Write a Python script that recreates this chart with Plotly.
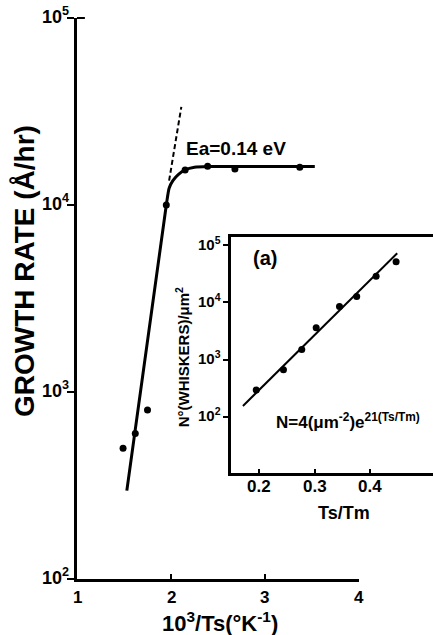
import numpy as np
import plotly.graph_objects as go

# ---- main panel data ----
main_pts_x = [1.49, 1.62, 1.75, 1.95, 2.15, 2.39, 2.68, 3.37]
main_pts_y = [500, 600, 800, 10000, 15400, 16100, 15600, 15900]
main_fit_x = [1.53, 1.95, 1.98, 2.02, 2.08, 2.15, 2.25, 2.40, 3.53]
main_fit_y = [297, 10000, 12300, 13500, 14600, 15400, 15900, 16050, 16050]
main_dash_x = [1.98, 2.11]
main_dash_y = [13500, 33500]
main_xticks = [1, 2, 3, 4]
main_xticklabels = ["1", "2", "3", "4"]
main_yticks = [100, 1000, 10000, 100000]
main_yticklabels = ["10<sup>2</sup>", "10<sup>3</sup>", "10<sup>4</sup>", "10<sup>5</sup>"]

# ---- inset data ----
ins_pts_x = [0.195, 0.244, 0.277, 0.303, 0.345, 0.376, 0.411, 0.447]
ins_pts_y = [297, 668, 1500, 3600, 8500, 12700, 28600, 51000]
ins_fit_x = [0.171, 0.449]
ins_fit_y = [156, 72000]
ins_xticks = [0.2, 0.3, 0.4]
ins_xticklabels = ["0.2", "0.3", "0.4"]
ins_yticks = [100, 1000, 10000, 100000]
ins_yticklabels = ["10<sup>2</sup>", "10<sup>3</sup>", "10<sup>4</sup>", "10<sup>5</sup>"]

FONT = "Liberation Sans, Arial, sans-serif"
BLACK = "#000000"

fig = go.Figure()

fig.add_trace(go.Scatter(x=main_fit_x, y=main_fit_y, mode="lines",
                         line=dict(color=BLACK, width=3, shape="spline", smoothing=0.6),
                         xaxis="x", yaxis="y", showlegend=False))
fig.add_trace(go.Scatter(x=main_dash_x, y=main_dash_y, mode="lines",
                         line=dict(color=BLACK, width=2, dash="5px,3px"),
                         xaxis="x", yaxis="y", showlegend=False))
fig.add_trace(go.Scatter(x=main_pts_x, y=main_pts_y, mode="markers",
                         marker=dict(color=BLACK, size=7),
                         xaxis="x", yaxis="y", showlegend=False))

fig.add_trace(go.Scatter(x=ins_fit_x, y=ins_fit_y, mode="lines",
                         line=dict(color=BLACK, width=2),
                         xaxis="x2", yaxis="y2", showlegend=False))
fig.add_trace(go.Scatter(x=ins_pts_x, y=ins_pts_y, mode="markers",
                         marker=dict(color=BLACK, size=7),
                         xaxis="x2", yaxis="y2", showlegend=False))


def bfont(size):
    return dict(family=FONT, color=BLACK, size=size)


annotations = []
# tick labels, positioned by the axes' own scales at the tick values
for v, t in zip(main_xticks, main_xticklabels):
    annotations.append(dict(text=f"<b>{t}</b>", xref="x", yref="paper", x=v, y=-0.033,
                            showarrow=False, font=bfont(17), xanchor="center", yanchor="middle"))
for v, t in zip(main_yticks, main_yticklabels):
    annotations.append(dict(text=f"<b>{t}</b>", xref="paper", yref="y", x=-0.017, y=float(np.log10(v)),
                            showarrow=False, font=bfont(18), xanchor="right", yanchor="middle", yshift=3))
for v, t in zip(ins_xticks, ins_xticklabels):
    annotations.append(dict(text=f"<b>{t}</b>", xref="x2", yref="paper", x=v, y=0.164,
                            showarrow=False, font=bfont(17), xanchor="center", yanchor="middle"))
for v, t in zip(ins_yticks, ins_yticklabels):
    annotations.append(dict(text=f"<b>{t}</b>", xref="paper", yref="y2", x=0.409, y=float(np.log10(v)),
                            showarrow=False, font=bfont(15), xanchor="right", yanchor="middle", yshift=2))

annotations += [
    dict(text="<b>GROWTH RATE (Å/hr)</b>", xref="paper", yref="paper", x=-0.149, y=0.549,
         textangle=-90, showarrow=False, font=bfont(28), xanchor="center", yanchor="middle"),
    dict(text="<b>10<sup>3</sup>/Ts(°K<sup>-1</sup>)</b>", xref="paper", yref="paper", x=0.401, y=-0.076,
         showarrow=False, font=bfont(22), xanchor="center", yanchor="middle"),
    dict(text="<b>Ea=0.14 eV</b>", xref="x", yref="y", x=2.69, y=4.30,
         showarrow=False, font=bfont(19), xanchor="center", yanchor="middle"),
    dict(text="<b>(a)</b>", xref="x2", yref="y2", x=0.211, y=4.77,
         showarrow=False, font=bfont(20), xanchor="center", yanchor="middle"),
    dict(text="<b>N=4(μm<sup>-2</sup>)e<sup>21(Ts/Tm)</sup></b>", xref="x2", yref="y2", x=0.36, y=1.93,
         showarrow=False, font=bfont(17), xanchor="center", yanchor="middle"),
    dict(text="<b>N°(WHISKERS)/μm<sup>2</sup></b>", xref="paper", yref="paper", x=0.296, y=0.396,
         textangle=-90, showarrow=False, font=bfont(15), xanchor="center", yanchor="middle"),
    dict(text="<b>Ts/Tm</b>", xref="paper", yref="paper", x=0.750, y=0.118,
         showarrow=False, font=bfont(18), xanchor="center", yanchor="middle"),
]

fig.update_layout(
    width=433, height=635,
    margin=dict(l=77, r=0, t=18, b=56),
    paper_bgcolor="white", plot_bgcolor="white",
    font=dict(family=FONT, color=BLACK, size=16),
    showlegend=False,
    xaxis=dict(domain=[0, 0.7921], range=[1, 4], tickmode="array", tickvals=main_xticks,
               showticklabels=False, ticks="inside", ticklen=5, tickwidth=2, tickcolor=BLACK,
               showline=True, linewidth=3, linecolor=BLACK, showgrid=False, zeroline=False, anchor="y"),
    yaxis=dict(domain=[0, 1], type="log", range=[2, 5], tickmode="array", tickvals=main_yticks,
               showticklabels=False, ticks="outside", ticklen=7, tickwidth=2, tickcolor=BLACK,
               showline=True, linewidth=3, linecolor=BLACK, showgrid=False, zeroline=False, anchor="x"),
    xaxis2=dict(domain=[0.4326, 1.0], range=[0.1495, 0.5135], tickmode="array", tickvals=ins_xticks,
                showticklabels=False, ticks="inside", ticklen=4, tickwidth=1.5, tickcolor=BLACK,
                showline=True, mirror=True, linewidth=2.5, linecolor=BLACK,
                showgrid=False, zeroline=False, anchor="y2"),
    yaxis2=dict(domain=[0.189, 0.610], type="log", range=[1.023, 5.145], tickmode="array", tickvals=ins_yticks,
                showticklabels=False, ticks="outside", ticklen=5, tickwidth=1.5, tickcolor=BLACK,
                showline=True, linewidth=2.5, linecolor=BLACK, showgrid=False, zeroline=False, anchor="x2"),
    annotations=annotations,
    shapes=[
        dict(type="line", xref="x domain", yref="y domain", x0=0, x1=0.028, y0=1, y1=1,
             line=dict(color=BLACK, width=2)),
    ],
)

fig.write_html("out.html")
